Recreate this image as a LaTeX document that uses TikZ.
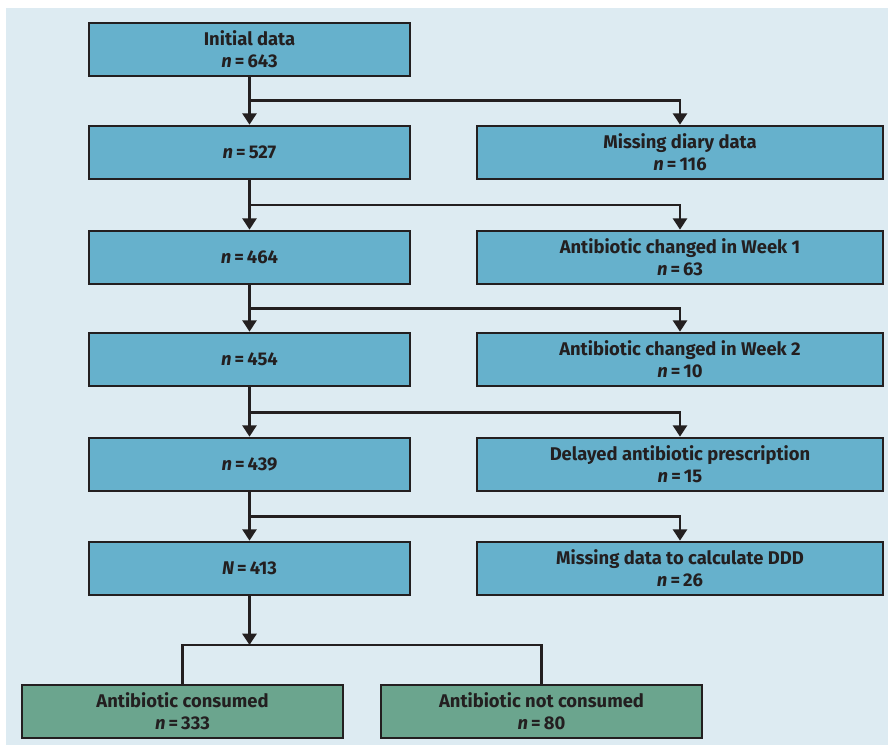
\documentclass[tikz,border=0pt]{standalone}
\usepackage{fontspec}
\setmainfont{Fira Sans}
\usetikzlibrary{arrows.meta}
\definecolor{bgc}{HTML}{DDEBF2}
\definecolor{boxblue}{HTML}{66B1CC}
\definecolor{boxgreen}{HTML}{6BA58E}
\definecolor{ink}{HTML}{231F20}
\tikzset{
  bx/.style={draw=ink, line width=2pt, fill=boxblue, minimum height=39.75pt, inner sep=0pt,
    align=center, font=\bfseries\fontsize{13.8pt}{16.5pt}\selectfont, text=ink},
  lbox/.style={bx, minimum width=240.75pt},
  rbox/.style={bx, minimum width=304.5pt},
  gbox/.style={bx, fill=boxgreen, minimum width=240.75pt},
  conn/.style={draw=ink, line width=2pt},
  arr/.style={conn, -{Triangle[width=10.5pt,length=8.5pt]}},
}
\newcommand{\nn}[1]{{\itshape n}\,=\,#1}
\begin{document}
\begin{tikzpicture}[x=0.75pt,y=-0.75pt]
\useasboundingbox (0,0) rectangle (888,747);
\fill[bgc] (6,8) rectangle (888,745);
% left column
\node[lbox] (l1) at (249.5,49.5) {Initial data\\\nn{643}};
\node[lbox] (l2) at (249.5,152.5) {\nn{527}};
\node[lbox] (l3) at (249.5,257.5) {\nn{464}};
\node[lbox] (l4) at (249.5,359.5) {\nn{454}};
\node[lbox] (l5) at (249.5,464.5) {\nn{439}};
\node[lbox] (l6) at (249.5,568.5) {{\itshape N}\,=\,413};
% right column
\node[rbox] (r1) at (680,152.5) {Missing diary data\\\nn{116}};
\node[rbox] (r2) at (680,257.5) {Antibiotic changed in Week 1\\\nn{63}};
\node[rbox] (r3) at (680,359.5) {Antibiotic changed in Week 2\\\nn{10}};
\node[rbox] (r4) at (680,464.5) {Delayed antibiotic prescription\\\nn{15}};
\node[rbox] (r5) at (680,568.5) {Missing data to calculate DDD\\\nn{26}};
% bottom
\node[gbox] (g1) at (182.5,711.5) {Antibiotic consumed\\\nn{333}};
\node[gbox] (g2) at (541.5,711.5) {Antibiotic not consumed\\\nn{80}};
% branch points
\coordinate (b1) at (249.5,100.5);
\coordinate (b2) at (249.5,205);
\coordinate (b3) at (249.5,308.5);
\coordinate (b4) at (249.5,412.5);
\coordinate (b5) at (249.5,516.5);
\coordinate (s) at (249.5,645);
% main flow
\draw[arr] (l1.south) -- (l2.north);
\draw[arr] (l2.south) -- (l3.north);
\draw[arr] (l3.south) -- (l4.north);
\draw[arr] (l4.south) -- (l5.north);
\draw[arr] (l5.south) -- (l6.north);
\draw[arr] (l6.south) -- (s);
% side branches
\draw[arr] (b1) -- (b1 -| r1) -- (r1.north);
\draw[arr] (b2) -- (b2 -| r2) -- (r2.north);
\draw[arr] (b3) -- (b3 -| r3) -- (r3.north);
\draw[arr] (b4) -- (b4 -| r4) -- (r4.north);
\draw[arr] (b5) -- (b5 -| r5) -- (r5.north);
% split
\draw[conn] (g1.north) -- (g1.north |- s) -- (g2.north |- s) -- (g2.north);
\end{tikzpicture}
\end{document}
